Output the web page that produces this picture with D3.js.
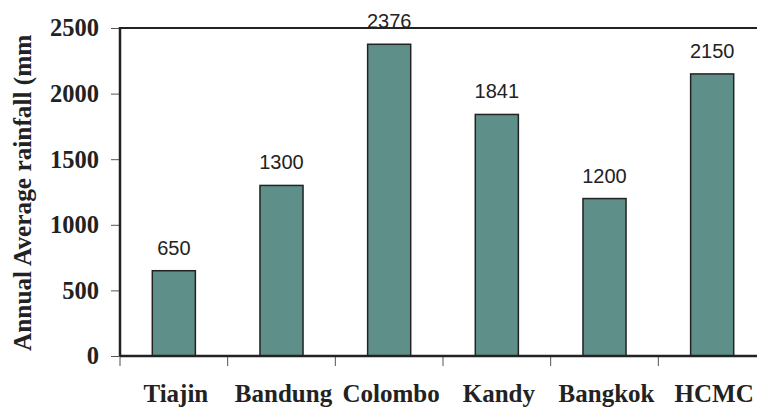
<!DOCTYPE html>
<html><head><meta charset="utf-8">
<script src="https://cdn.jsdelivr.net/npm/d3@7"></script>
<style>body{margin:0;background:#fff}svg{display:block}</style>
</head><body><svg id="c" width="757" height="407"></svg>
<script>
const categories = ["Tiajin","Bandung","Colombo","Kandy","Bangkok","HCMC"];
const rainfall = [650,1300,2376,1841,1200,2150];
const yTicks = [0,500,1000,1500,2000,2500];
const yTitle = "Annual Average rainfall (mm";

const svg = d3.select("#c");
const pLeft = 120, pRight = 766, pTop = 28, pBottom = 356;
const x = d3.scaleBand().domain(categories).range([pLeft, pRight]).paddingInner(0.6).paddingOuter(0.3);
const xTick = d3.scaleBand().domain(categories).range([pLeft, pRight]);
const y = d3.scaleLinear().domain([0,2500]).range([pBottom, pTop]);
const ink = "#222";

// top frame line
svg.append("line").attr("x1", pLeft).attr("x2", pRight).attr("y1", pTop).attr("y2", pTop)
  .attr("stroke", ink).attr("stroke-width", 2.2);

// y axis
const ya = svg.append("g").attr("transform", `translate(${pLeft},0)`)
  .call(d3.axisLeft(y).tickValues(yTicks).tickSize(9).tickPadding(12).tickFormat(d3.format("d")));
ya.select(".domain").remove();
ya.selectAll(".tick line").attr("stroke", "#555").attr("stroke-width", 1);
ya.selectAll(".tick text").attr("font-family", "Liberation Serif, Times New Roman, serif")
  .attr("font-weight", "bold").attr("font-size", 24.5).attr("fill", ink);

// x axis ticks at band boundaries
const xa = svg.append("g").attr("transform", `translate(0,${pBottom})`);
xa.selectAll("line.bt").data(categories.concat(["_end"])).join("line").attr("class","bt")
  .attr("x1", (d,i) => pLeft + i * xTick.step()).attr("x2", (d,i) => pLeft + i * xTick.step())
  .attr("y1", 0).attr("y2", 10).attr("stroke", "#555").attr("stroke-width", 1);
xa.selectAll("text").data(categories).join("text")
  .attr("x", d => xTick(d) + xTick.bandwidth()/2 + 2).attr("y", 46)
  .attr("text-anchor", "middle")
  .attr("font-family", "Liberation Serif, Times New Roman, serif")
  .attr("font-weight", "bold").attr("font-size", 25).attr("fill", ink)
  .text(d => d);

// bars
svg.selectAll("rect.bar").data(categories).join("rect").attr("class","bar")
  .attr("x", d => x(d)).attr("width", x.bandwidth())
  .attr("y", (d,i) => y(rainfall[i])).attr("height", (d,i) => pBottom - y(rainfall[i]))
  .attr("fill", "#5f8f89").attr("stroke", ink).attr("stroke-width", 1.5);

// value labels
svg.selectAll("text.val").data(categories).join("text").attr("class","val")
  .attr("x", d => x(d) + x.bandwidth()/2).attr("y", (d,i) => y(rainfall[i]) - 16)
  .attr("text-anchor", "middle")
  .attr("font-family", "Liberation Sans, Arial, sans-serif")
  .attr("font-size", 20).attr("fill", ink)
  .text((d,i) => rainfall[i]);

// axis lines
svg.append("line").attr("x1", pLeft).attr("x2", pLeft).attr("y1", pTop - 1).attr("y2", pBottom)
  .attr("stroke", ink).attr("stroke-width", 2.5);
svg.append("line").attr("x1", pLeft).attr("x2", pRight).attr("y1", pBottom).attr("y2", pBottom)
  .attr("stroke", ink).attr("stroke-width", 2.5);

// y title
svg.append("text").attr("transform", "translate(31,351) rotate(-90)")
  .attr("font-family", "Liberation Serif, Times New Roman, serif")
  .attr("font-weight", "bold").attr("font-size", 25.3).attr("fill", ink)
  .text(yTitle);
</script></body></html>
